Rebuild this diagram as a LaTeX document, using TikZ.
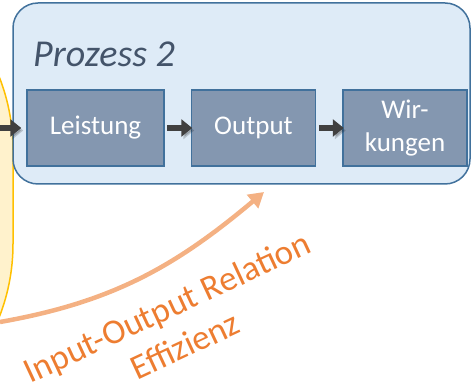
\documentclass[tikz,border=0pt]{standalone}
\usepackage{fontspec}
\setmainfont{Carlito}
\usepackage{tikz}
\usetikzlibrary{arrows.meta,positioning}
\definecolor{FrameBlue}{HTML}{41719C}
\definecolor{SoftBlue}{HTML}{DEEBF7}
\definecolor{BoxBlue}{HTML}{8497B0}
\definecolor{TitleSlate}{HTML}{44546A}
\definecolor{SoftYellow}{HTML}{FFF2CC}
\definecolor{WarmGold}{HTML}{FFC000}
\definecolor{ArrowGray}{HTML}{404040}
\definecolor{LightOrange}{HTML}{F4B183}
\definecolor{DeepOrange}{HTML}{ED7D31}

\begin{document}
\begin{tikzpicture}[x=1pt,y=1pt,node distance=26pt,
  actbox/.style={draw=FrameBlue,line width=1.5pt,fill=BoxBlue,text=white,minimum height=76pt,minimum width=124pt,inner sep=0pt,align=center,font=\fontsize{27}{33}\selectfont},
  flow/.style={ArrowGray,line width=6pt,-{Triangle[length=11pt,width=17pt]},preaction={draw=black,opacity=.18,transform canvas={shift={(2pt,-2.5pt)}}}}]
\useasboundingbox (0,0) rectangle (472,391);
\clip (0,0) rectangle (472,391);
% Prozess 1 (nur Rand sichtbar)
\node[draw=WarmGold,line width=1.5pt,fill=SoftYellow,rounded corners=200pt,minimum width=413pt,minimum height=494pt] (p1) at (-193.5,194) {};
% Prozess 2
\node[draw=FrameBlue,line width=1.5pt,fill=SoftBlue,rounded corners=25pt,minimum width=457pt,minimum height=181pt] (p2) at (241.5,297.5) {};
\node[anchor=base west,inner sep=0pt,text=TitleSlate,font=\fontsize{38}{46}\selectfont\itshape] (ttl) at (33,324) {Prozess 2};
\node[actbox,minimum width=137pt] (lei) at (95.5,263) {Leistung};
\node[actbox,right=of lei] (out) {Output};
\node[actbox,right=of out] (wir) {Wir-\\kungen};
\coordinate (src) at (0,263);
\draw[flow,shorten >=5pt] (src)--(lei.west);
\draw[flow,shorten <=2.5pt,shorten >=-1.5pt] (lei.east)--(out.west);
\draw[flow,shorten <=2.5pt,shorten >=-1.5pt] (out.east)--(wir.west);
% Relation
\coordinate (ostart) at (0,69);
\coordinate (oend) at (264,199);
\draw[LightOrange,line width=4.5pt,-{Triangle[length=15pt,width=17pt]}] (ostart) to[out=10,in=220] (oend);
\node[text=DeepOrange,rotate=25,align=center,inner sep=0pt,font=\fontsize{35}{42}\selectfont] (rel) at (176,65) {Input-Output Relation\\Effizienz};
\end{tikzpicture}
\end{document}
